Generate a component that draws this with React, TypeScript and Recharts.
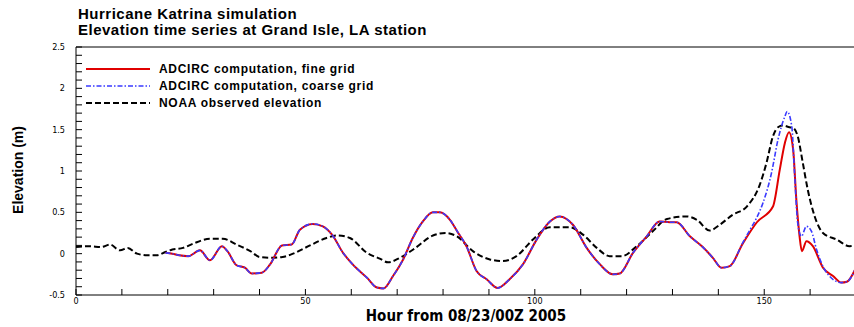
import React from 'react';
import { LineChart, Line, XAxis, YAxis, ReferenceLine, Label } from 'recharts';

// hours from 08/23/00Z 2005 and elevation (m)
const fineHours = [19.5, 21, 22.5, 24.5, 27, 29.2, 31.8, 33, 35, 36.8, 38.3, 40.5, 42.3, 44.9, 47, 48.8, 51.6, 53.8, 55.8, 58.2, 60.3, 63.4, 65.6, 67, 69.1, 71.3, 73.4, 75.6, 77.8, 79.3, 81.5, 83.2, 85.1, 87.3, 89.5, 91.9, 94.5, 97.4, 100.4, 103.3, 105.4, 108.3, 111.3, 114.2, 117, 118.5, 121.4, 124.4, 127.2, 129.4, 130.9, 133.8, 136.6, 138.8, 140.7, 142.5, 145.3, 148.4, 151.9, 153.4, 154.5, 155.4, 156.3, 157, 157.7, 158.2, 159.2, 160.6, 162.8, 165, 166.8, 168, 170];
const fineElev = [0.01, 0.0, -0.02, -0.03, 0.04, -0.08, 0.09, 0.03, -0.14, -0.17, -0.24, -0.23, -0.13, 0.1, 0.11, 0.29, 0.36, 0.33, 0.23, 0.01, -0.13, -0.29, -0.41, -0.42, -0.27, -0.07, 0.19, 0.39, 0.5, 0.5, 0.41, 0.26, 0.09, -0.21, -0.31, -0.415, -0.31, -0.13, 0.17, 0.39, 0.45, 0.35, 0.07, -0.13, -0.25, -0.24, 0.01, 0.21, 0.39, 0.38, 0.38, 0.21, 0.08, -0.05, -0.17, -0.15, 0.12, 0.38, 0.57, 1.02, 1.34, 1.47, 1.26, 0.65, 0.21, 0.03, 0.15, 0.09, -0.17, -0.27, -0.35, -0.34, -0.17];

const coarseHours = [19.5, 21, 22.5, 24.5, 27, 29.2, 31.8, 33, 35, 36.8, 38.3, 40.5, 42.3, 44.9, 47, 48.8, 51.6, 53.8, 55.8, 58.2, 60.3, 63.4, 65.6, 67, 69.1, 71.3, 73.4, 75.6, 77.8, 79.3, 81.5, 83.2, 85.1, 87.3, 89.5, 91.9, 94.5, 97.4, 100.4, 103.3, 105.4, 108.3, 111.3, 114.2, 117, 118.5, 121.4, 124.4, 127.2, 129.4, 130.9, 133.8, 136.6, 138.8, 140.7, 142.5, 145.3, 147, 148.4, 149.7, 151.6, 153, 154.5, 155, 156, 156.6, 157.3, 158.1, 159.2, 160.3, 161.4, 163.6, 166.8, 168, 170];
const coarseElev = [0.01, 0.0, -0.02, -0.03, 0.04, -0.08, 0.09, 0.03, -0.14, -0.17, -0.24, -0.23, -0.13, 0.1, 0.11, 0.29, 0.36, 0.33, 0.23, 0.01, -0.13, -0.29, -0.41, -0.42, -0.27, -0.07, 0.19, 0.39, 0.5, 0.5, 0.41, 0.26, 0.09, -0.21, -0.31, -0.415, -0.31, -0.13, 0.17, 0.39, 0.45, 0.35, 0.07, -0.13, -0.25, -0.24, 0.01, 0.21, 0.39, 0.38, 0.38, 0.21, 0.08, -0.05, -0.17, -0.15, 0.13, 0.3, 0.44, 0.61, 0.98, 1.38, 1.66, 1.72, 1.54, 0.98, 0.37, 0.21, 0.33, 0.27, 0.05, -0.23, -0.35, -0.34, -0.17];

const noaaHours = [0, 3, 5.5, 7.4, 9.6, 11.3, 13.3, 15.5, 17.6, 19.5, 21, 23.3, 25.5, 29.2, 32, 35, 38, 40, 42.5, 45, 47.3, 51, 54.6, 57, 59.7, 63.4, 66.2, 68, 70.6, 73.5, 77.8, 80.5, 83, 86.5, 90.2, 93, 96, 99.6, 103.3, 107.6, 110.5, 113.5, 116.3, 119, 122.2, 125.7, 128.8, 133.1, 135.3, 138.1, 140.3, 143.1, 146.2, 149, 150.5, 151.9, 153, 154, 155.5, 156.3, 157.3, 158.4, 159.5, 161, 162.8, 165.8, 168.6, 170];
const noaaElev = [0.08, 0.09, 0.08, 0.11, 0.04, 0.07, 0.0, -0.02, -0.02, 0.02, 0.05, 0.07, 0.12, 0.18, 0.18, 0.11, 0.03, -0.04, -0.05, -0.04, 0.0, 0.1, 0.19, 0.22, 0.19, 0.01, -0.06, -0.105, -0.05, 0.05, 0.22, 0.25, 0.21, 0.03, -0.07, -0.09, -0.03, 0.17, 0.32, 0.32, 0.23, 0.07, -0.03, -0.03, 0.09, 0.27, 0.42, 0.45, 0.41, 0.28, 0.35, 0.47, 0.57, 0.83, 1.1, 1.42, 1.53, 1.55, 1.53, 1.52, 1.42, 1.1, 0.77, 0.45, 0.25, 0.17, 0.09, 0.1];

const xTicks = [0, 10, 20, 30, 40, 50, 60, 70, 80, 90, 100, 110, 120, 130, 140, 150, 160, 170];
const xLabels = [0, 50, 100, 150];
const yTicks = Array.from({ length: 31 }, (_, i) => Math.round((-0.5 + i * 0.1) * 10) / 10);
const yLabels = [-0.5, 0, 0.5, 1, 1.5, 2, 2.5];

const toPoints = (hours: number[], elev: number[]) => hours.map((t, i) => ({ t, v: elev[i] }));

const series = [
  { name: 'ADCIRC computation, fine grid', data: toPoints(fineHours, fineElev), color: '#e00000', dash: undefined, width: 2 },
  { name: 'ADCIRC computation, coarse grid', data: toPoints(coarseHours, coarseElev), color: '#3a3aff', dash: '5 2 1.5 2', width: 1.6 },
  { name: 'NOAA observed elevation', data: toPoints(noaaHours, noaaElev), color: '#000000', dash: '6 3', width: 2 },
];
// draw order: observed first, then fine, coarse on top
const drawOrder = [2, 0, 1];

const FONT = '"Liberation Sans", Arial, sans-serif';
const NARROW = '"Liberation Sans Narrow", "DejaVu Sans Condensed", "Liberation Sans", sans-serif';

const YTick = (props: any) => {
  const { x, y, payload } = props;
  const v = payload.value;
  return (
    <g>
      <line x1={x} x2={x + 6} y1={y} y2={y} stroke="#000" strokeWidth={1} />
      {yLabels.includes(v) && (
        <text x={x - 11} y={y} textAnchor="end" dominantBaseline="central" fontSize={9} fontFamily={NARROW} fill="#000">
          {String(v)}
        </text>
      )}
    </g>
  );
};

const XTick = (props: any) => {
  const { x, y, payload } = props;
  const v = payload.value;
  return (
    <g>
      <line x1={x} x2={x} y1={y} y2={y - 6} stroke="#000" strokeWidth={1} />
      {xLabels.includes(v) && (
        <text x={x} y={y + 6} textAnchor="middle" dominantBaseline="central" fontSize={9} fontFamily={NARROW} fill="#000">
          {String(v)}
        </text>
      )}
    </g>
  );
};

const LegendBox = () => (
  <div
    style={{
      position: 'absolute',
      left: 86,
      top: 60,
      fontFamily: FONT,
      fontWeight: 'bold',
      fontSize: 12,
      letterSpacing: 0.7,
      color: '#000',
      zIndex: 2,
    }}
  >
    {series.map((s) => (
      <div key={s.name} style={{ display: 'flex', alignItems: 'center', height: 17 }}>
        <svg width={64} height={6} style={{ marginRight: 9 }}>
          <line x1={0} x2={64} y1={3} y2={3} stroke={s.color} strokeWidth={s.width} strokeDasharray={s.dash} />
        </svg>
        <span>{s.name}</span>
      </div>
    ))}
  </div>
);

export default function App() {
  return (
    <div style={{ position: 'absolute', left: 0, top: 0, width: 854, height: 327, overflow: 'hidden', background: '#fff' }}>
      <div
        style={{
          position: 'absolute',
          left: 78,
          top: 6,
          fontFamily: FONT,
          fontWeight: 'bold',
          fontSize: 15,
          letterSpacing: 0.5,
          lineHeight: '16px',
          color: '#000',
        }}
      >
        <div>Hurricane Katrina simulation</div>
        <div>Elevation time series at Grand Isle, LA station</div>
      </div>
      <LegendBox />
      <LineChart width={857} height={327} margin={{ top: 47, right: 1, bottom: 0, left: 16 }}>
        <XAxis
          type="number"
          dataKey="t"
          domain={[0, 170]}
          ticks={xTicks}
          interval={0}
          tickSize={0}
          tickMargin={0}
          tick={<XTick />}
          height={32}
          stroke="#000"
          allowDataOverflow
        >
          <Label
            content={() => (
              <text x={466} y={321} textAnchor="middle" fontFamily={NARROW} fontWeight="bold" fontSize={15} fill="#000">
                Hour from 08/23/00Z 2005
              </text>
            )}
          />
        </XAxis>
        <YAxis
          type="number"
          dataKey="v"
          domain={[-0.5, 2.5]}
          ticks={yTicks}
          interval={0}
          tickSize={0}
          tickMargin={0}
          tick={<YTick />}
          width={60}
          stroke="#000"
          allowDataOverflow
        >
          <Label
            content={() => (
              <text x={23} y={170} transform="rotate(-90 23 170)" textAnchor="middle" fontFamily={FONT} fontWeight="bold" fontSize={14} fill="#000">
                Elevation (m)
              </text>
            )}
          />
        </YAxis>
        <ReferenceLine y={2.5} stroke="#000" strokeWidth={1} />
        {drawOrder.map((i) => {
          const s = series[i];
          return (
            <Line
              key={s.name}
              data={s.data}
              dataKey="v"
              name={s.name}
              type="monotone"
              stroke={s.color}
              strokeWidth={s.width}
              strokeDasharray={s.dash}
              dot={false}
              isAnimationActive={false}
            />
          );
        })}
      </LineChart>
    </div>
  );
}
